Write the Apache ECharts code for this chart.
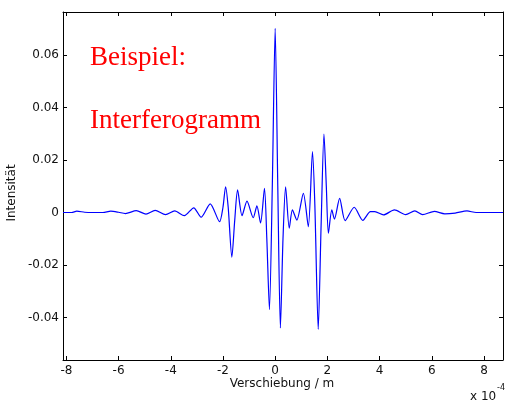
<!DOCTYPE html>
<html><head><meta charset="utf-8">
<script src="https://cdn.jsdelivr.net/npm/echarts@6/dist/echarts.min.js"></script>
<style>html,body{margin:0;padding:0;background:#fff}#c{width:507px;height:401px}</style>
</head><body><div id="c"></div>
<script>
// displacement in units of 1e-4 m
const xs = [-8.13,-7.8,-7.6,-7.3,-7.0,-6.6,-6.3,-6.0,-5.74,-5.32,-4.95,-4.6,-4.2,-3.85,-3.48,-3.12,-2.84,-2.49,-2.13,-2.0,-1.90,-1.80,-1.66,-1.55,-1.44,-1.27,-1.08,-0.84,-0.70,-0.56,-0.41,-0.32,-0.22,-0.11,0,0.10,0.20,0.30,0.40,0.54,0.66,0.83,1.08,1.27,1.43,1.52,1.65,1.76,1.87,1.96,2.04,2.17,2.27,2.47,2.68,3.03,3.36,3.65,3.82,4.15,4.57,5.0,5.35,5.65,6.1,6.5,6.9,7.35,7.7,8.73];
const intensity = [0,0,0.0005,0.0001,0,0,0.0005,0.0001,-0.0004,0.0007,-0.0006,0.0008,-0.0008,0.0006,-0.0012,0.0018,-0.0018,0.0033,-0.0035,0.002,0.0098,0.002,-0.017,-0.003,0.0086,-0.0012,0.0043,-0.002,0.0025,-0.004,0.0092,-0.01,-0.037,0.01,0.0702,0.01,-0.044,-0.01,0.0098,-0.006,0.001,-0.0029,0.0073,-0.0054,0.0232,0.003,-0.0445,-0.005,0.0299,0.01,-0.0079,0.001,-0.0025,0.0054,-0.0031,0.002,-0.003,0.0003,0.0003,-0.0009,0.001,-0.0008,0.0006,-0.0008,0.0004,-0.0005,-0.0002,0.0006,0,0];
const xTicks = [-8,-6,-4,-2,0,2,4,6,8];
const yTicks = [-0.04,-0.02,0,0.02,0.04,0.06];

const chart = echarts.init(document.getElementById('c'), null, {renderer:'canvas'});
const fmt = v => (v < 0 ? '-' : '') + String(Math.abs(Math.round(v*100)/100));
const sans = '"DejaVu Sans", Arial, sans-serif';
const lab = {fontFamily:sans, fontSize:12, color:'#111'};
const line = {show:true, onZero:false, lineStyle:{color:'#000', width:1}};
const tick = {show:true, inside:true, length:4, lineStyle:{color:'#000', width:1}};
chart.setOption({
  animation:false,
  grid:{left:63, right:4, top:12, bottom:41},
  xAxis:[
    {type:'value', min:-8.13, max:8.73, position:'bottom', axisLine:line,
     axisTick:Object.assign({customValues:xTicks}, tick),
     axisLabel:Object.assign({customValues:xTicks, margin:5, formatter:fmt}, lab),
     splitLine:{show:false}},
    {type:'value', min:-8.13, max:8.73, position:'top', axisLine:line,
     axisTick:Object.assign({customValues:xTicks}, tick), axisLabel:{show:false}, splitLine:{show:false}}
  ],
  yAxis:[
    {type:'value', min:-0.0562, max:0.0764, position:'left', axisLine:line,
     axisTick:Object.assign({customValues:yTicks}, tick),
     axisLabel:Object.assign({customValues:yTicks, margin:4, formatter:fmt}, lab),
     splitLine:{show:false}},
    {type:'value', min:-0.0562, max:0.0764, position:'right', axisLine:line,
     axisTick:Object.assign({customValues:yTicks}, tick), axisLabel:{show:false}, splitLine:{show:false}}
  ],
  series:[{type:'line', xAxisIndex:0, yAxisIndex:0, showSymbol:false, smooth:0.25,
    lineStyle:{color:'#0000ff', width:1.2},
    data: xs.map((x,i)=>[x, intensity[i]])}],
  graphic:[
    {type:'text', left:90, top:44, style:{text:'Beispiel:', font:'27px "Liberation Serif", "Times New Roman", serif', fill:'#ff0000'}},
    {type:'text', left:90, top:107, style:{text:'Interferogramm', font:'27px "Liberation Serif", "Times New Roman", serif', fill:'#ff0000'}},
    {type:'text', x:282, y:378, style:{text:'Verschiebung / m', font:'12px ' + sans, fill:'#111', align:'center', verticalAlign:'top'}},
    {type:'text', x:12, y:193, rotation:Math.PI/2, style:{text:'Intensität', font:'12px ' + sans, fill:'#111', align:'center', verticalAlign:'middle'}},
    {type:'text', left:470, top:391, style:{text:'x 10', font:'12px ' + sans, fill:'#111'}},
    {type:'text', left:497, top:384, style:{text:'-4', font:'8px ' + sans, fill:'#111'}}
  ]
});
</script></body></html>
